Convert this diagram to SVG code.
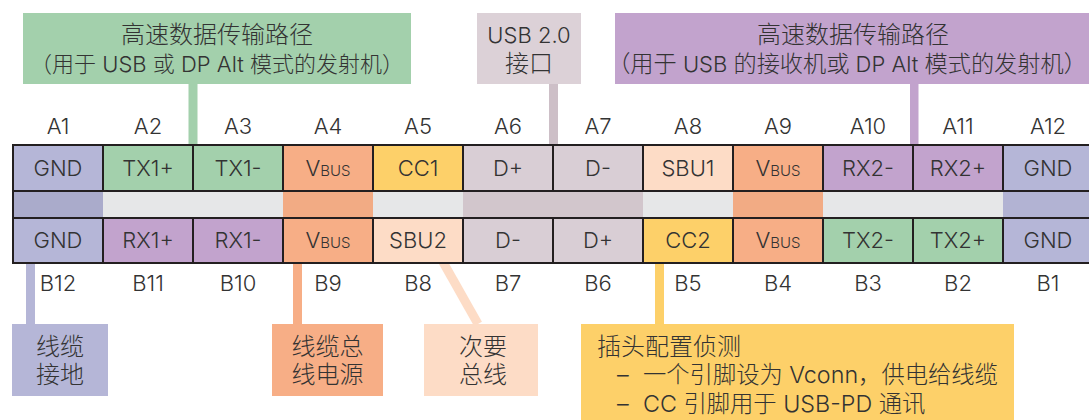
<svg xmlns="http://www.w3.org/2000/svg" width="1089" height="420" viewBox="0 0 1089 420">
<style>
text{font-family:Inter,"Noto Sans CJK SC",sans-serif;font-weight:300;fill:#333;font-size:22px}
.c{text-anchor:middle}
.k{font-size:24px}
.k2{font-size:23.2px}
.m{font-size:23.3px}
.cell{stroke:#231f20;stroke-width:2}
.sm{font-size:15px}
.gnd{fill:#b5b6d7}.grn{fill:#a3d0ac}.org{fill:#f7ae86}.yel{fill:#fdd069}.mau{fill:#d9ced5}.pch{fill:#fddcc6}.pur{fill:#c2a3cd}
</style>
<rect width="1089" height="420" fill="#fff"/>
<g id="connectors">
<rect x="188.5" y="84" width="9" height="61" fill="#a3d0ac"/>
<rect x="549" y="84" width="9" height="61" fill="#cdbfc7"/>
<rect x="910" y="84" width="8.5" height="61" fill="#c2a3cd"/>
<rect x="26" y="263" width="9" height="61" fill="#b5b6d7"/>
<rect x="293" y="263" width="9" height="61" fill="#f7ae86"/>
<line x1="443" y1="262" x2="478" y2="324" stroke="#fddcc6" stroke-width="9"/>
<rect x="655" y="263" width="9" height="61" fill="#fdd069"/>
</g>
<g id="label-tx">
<rect x="23" y="13" width="388" height="71" fill="#a3d0ac"/>
<text class="c k" x="217" y="43">高速数据传输路径</text>
<text class="c" x="217" y="72">（用于 USB 或 DP Alt 模式的发射机）</text>
</g>
<g id="label-usb2">
<rect x="477" y="13" width="104" height="71" fill="#dcd1d7"/>
<text class="c" x="529" y="43">USB 2.0</text>
<text class="c k" x="529" y="72">接口</text>
</g>
<g id="label-rx">
<rect x="615" y="13" width="474" height="71" fill="#c2a3cd"/>
<text class="c k" x="853" y="43">高速数据传输路径</text>
<text class="c" x="847" y="72"><tspan class="k2">（用于</tspan> USB <tspan class="k2">的接收机或</tspan> DP Alt <tspan class="k2">模式的发射机）</tspan></text>
</g>
<g id="pin-labels-a">
<text class="c" x="58" y="134">A1</text><text class="c" x="148" y="134">A2</text><text class="c" x="238" y="134">A3</text><text class="c" x="328" y="134">A4</text><text class="c" x="418" y="134">A5</text><text class="c" x="508" y="134">A6</text><text class="c" x="598" y="134">A7</text><text class="c" x="688" y="134">A8</text><text class="c" x="778" y="134">A9</text><text class="c" x="868" y="134">A10</text><text class="c" x="958" y="134">A11</text><text class="c" x="1048" y="134">A12</text>
</g>
<g id="pin-labels-b">
<text class="c" x="58" y="291">B12</text><text class="c" x="148" y="291">B11</text><text class="c" x="238" y="291">B10</text><text class="c" x="328" y="291">B9</text><text class="c" x="418" y="291">B8</text><text class="c" x="508" y="291">B7</text><text class="c" x="598" y="291">B6</text><text class="c" x="688" y="291">B5</text><text class="c" x="778" y="291">B4</text><text class="c" x="868" y="291">B3</text><text class="c" x="958" y="291">B2</text><text class="c" x="1048" y="291">B1</text>
</g>
<g id="middle-band">
<rect x="13" y="191" width="1090" height="27" fill="#e6e7e8"/>
<rect x="13" y="191" width="90" height="27" fill="#aaabcb"/>
<rect x="283" y="191" width="90" height="27" fill="#f2ab84"/>
<rect x="463" y="191" width="180" height="27" fill="#d2c6cc"/>
<rect x="733" y="191" width="90" height="27" fill="#f2ab84"/>
<rect x="1003" y="191" width="100" height="27" fill="#b2b3d3"/>
<line x1="13" y1="191" x2="1100" y2="191" stroke="#231f20" stroke-width="2"/>
<line x1="13" y1="218" x2="1100" y2="218" stroke="#231f20" stroke-width="2"/>
<line x1="13" y1="190" x2="13" y2="219" stroke="#231f20" stroke-width="2"/>
</g>
<g id="row-a">
<g id="pin-A1"><rect class="cell gnd" x="13" y="145" width="90" height="46"/><text class="c" x="58" y="176">GND</text></g>
<g id="pin-A2"><rect class="cell grn" x="103" y="145" width="90" height="46"/><text class="c" x="148" y="176">TX1+</text></g>
<g id="pin-A3"><rect class="cell grn" x="193" y="145" width="90" height="46"/><text class="c" x="238" y="176">TX1-</text></g>
<g id="pin-A4"><rect class="cell org" x="283" y="145" width="90" height="46"/><text class="c" x="328" y="176">V<tspan class="sm">BUS</tspan></text></g>
<g id="pin-A5"><rect class="cell yel" x="373" y="145" width="90" height="46"/><text class="c" x="418" y="176">CC1</text></g>
<g id="pin-A6"><rect class="cell mau" x="463" y="145" width="90" height="46"/><text class="c" x="508" y="176">D+</text></g>
<g id="pin-A7"><rect class="cell mau" x="553" y="145" width="90" height="46"/><text class="c" x="598" y="176">D-</text></g>
<g id="pin-A8"><rect class="cell pch" x="643" y="145" width="90" height="46"/><text class="c" x="688" y="176">SBU1</text></g>
<g id="pin-A9"><rect class="cell org" x="733" y="145" width="90" height="46"/><text class="c" x="778" y="176">V<tspan class="sm">BUS</tspan></text></g>
<g id="pin-A10"><rect class="cell pur" x="823" y="145" width="90" height="46"/><text class="c" x="868" y="176">RX2-</text></g>
<g id="pin-A11"><rect class="cell pur" x="913" y="145" width="90" height="46"/><text class="c" x="958" y="176">RX2+</text></g>
<g id="pin-A12"><rect class="cell gnd" x="1003" y="145" width="100" height="46"/><text class="c" x="1048" y="176">GND</text></g>
</g>
<g id="row-b">
<g id="pin-B12"><rect class="cell gnd" x="13" y="218" width="90" height="45"/><text class="c" x="58" y="248">GND</text></g>
<g id="pin-B11"><rect class="cell pur" x="103" y="218" width="90" height="45"/><text class="c" x="148" y="248">RX1+</text></g>
<g id="pin-B10"><rect class="cell pur" x="193" y="218" width="90" height="45"/><text class="c" x="238" y="248">RX1-</text></g>
<g id="pin-B9"><rect class="cell org" x="283" y="218" width="90" height="45"/><text class="c" x="328" y="248">V<tspan class="sm">BUS</tspan></text></g>
<g id="pin-B8"><rect class="cell pch" x="373" y="218" width="90" height="45"/><text class="c" x="418" y="248">SBU2</text></g>
<g id="pin-B7"><rect class="cell mau" x="463" y="218" width="90" height="45"/><text class="c" x="508" y="248">D-</text></g>
<g id="pin-B6"><rect class="cell mau" x="553" y="218" width="90" height="45"/><text class="c" x="598" y="248">D+</text></g>
<g id="pin-B5"><rect class="cell yel" x="643" y="218" width="90" height="45"/><text class="c" x="688" y="248">CC2</text></g>
<g id="pin-B4"><rect class="cell org" x="733" y="218" width="90" height="45"/><text class="c" x="778" y="248">V<tspan class="sm">BUS</tspan></text></g>
<g id="pin-B3"><rect class="cell grn" x="823" y="218" width="90" height="45"/><text class="c" x="868" y="248">TX2-</text></g>
<g id="pin-B2"><rect class="cell grn" x="913" y="218" width="90" height="45"/><text class="c" x="958" y="248">TX2+</text></g>
<g id="pin-B1"><rect class="cell gnd" x="1003" y="218" width="100" height="45"/><text class="c" x="1048" y="248">GND</text></g>
</g>
<g id="label-ground">
<rect x="12" y="324" width="96" height="72" fill="#b5b6d7"/>
<text class="c k" x="60" y="355">线缆</text>
<text class="c k" x="60" y="383">接地</text>
</g>
<g id="label-vbus">
<rect x="272" y="324" width="111" height="72" fill="#f7ae86"/>
<text class="c k" x="327.5" y="355">线缆总</text>
<text class="c k" x="327.5" y="383">线电源</text>
</g>
<g id="label-sbu">
<rect x="424" y="324" width="114" height="72" fill="#fddcc6"/>
<text class="c k" x="483" y="355">次要</text>
<text class="c k" x="483" y="383">总线</text>
</g>
<g id="label-cc">
<rect x="581" y="324" width="433" height="96" fill="#fdd069"/>
<text class="k" x="597" y="355">插头配置侦测</text>
<text class="m" y="383"><tspan x="617">–</tspan><tspan x="643">一个引脚设为 Vconn，供电给线缆</tspan></text>
<text class="m" y="412"><tspan x="617">–</tspan><tspan x="643">CC 引脚用于 USB-PD 通讯</tspan></text>
</g>
</svg>
